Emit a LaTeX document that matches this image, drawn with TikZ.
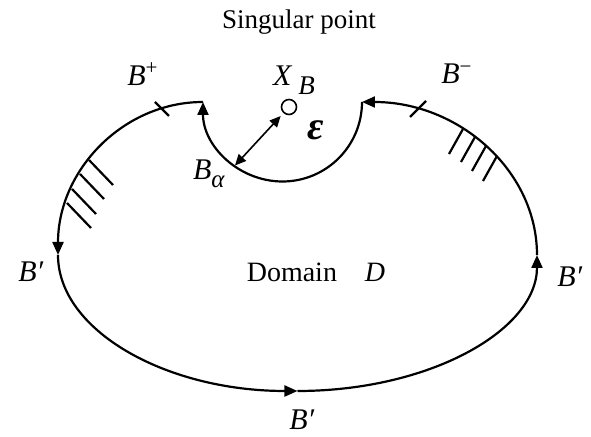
\documentclass[tikz,border=0pt]{standalone}
\usepackage{fontspec}
\setmainfont{Liberation Serif}
\usetikzlibrary{arrows.meta}

\begin{document}
\begin{tikzpicture}[x=0.5pt, y=-0.5pt, line width=1.1pt,
    every node/.style={font=\fontsize{13.5}{16}\selectfont},
    lbl/.style={font=\fontsize{15}{17}\selectfont},
    tip/.style={-{Triangle[length=6.5pt,width=5.5pt]}},
    gap/.style={{Triangle[length=5.5pt,width=5pt]}-{Triangle[length=5.5pt,width=5pt]}, line width=0.8pt}]
        \useasboundingbox (0,0) rectangle (591,437);

        \node (title) at (299,22) {Singular point};
        \node[circle, draw, line width=0.8pt, minimum size=7.5pt, inner sep=0pt] (xb) at (289,107) {};
        \node[lbl] (xblabel) at (294,80) {\textit{X}\hspace{3pt}\raisebox{-4.5pt}{\fontsize{13.5}{15}\selectfont\textit{B}}};
        \node (eps) at (316,130) {\fontsize{20}{22}\selectfont\textbf{\textit{ε}}};
        \node[lbl] (balpha) at (209,174) {\textit{B}\raisebox{-4pt}{\fontsize{12.5}{14}\selectfont\textit{α}}};
        \node[lbl] (bplus) at (143,74) {\textit{B}\textsuperscript{+}};
        \node[lbl] (bminus) at (457,74) {\textit{B}\textsuperscript{−}};
        \node[lbl] (bleft) at (31,272) {\textit{B′}};
        \node[lbl] (bright) at (570,277) {\textit{B′}};
        \node[lbl] (bbottom) at (302,420) {\textit{B′}};
        \node[lbl] (domain) at (316,272) {\fontsize{14}{16}\selectfont Domain\quad\textit{D}};

        \draw[tip] (203,102) arc[start angle=270, end angle=180, x radius=145, y radius=153];
        \draw[tip] (58,255) arc[start angle=180, end angle=90, x radius=239.5, y radius=136];
        \draw[tip] (297.5,391) arc[start angle=90, end angle=0, x radius=239.5, y radius=136];
        \draw[tip] (537,255) arc[start angle=0, end angle=-90, x radius=175, y radius=153];
        \draw[tip] (362,102) arc[start angle=0, end angle=180, radius=79.5];

        \draw (155,102) -- (169,116);
        \draw (410,117) -- (426,101);
        \foreach \x/\y in {89/160, 80/174, 72/189, 67/203}
            \draw (\x,\y) -- ++(24,25);
        \foreach \x/\y in {463/129, 475/137, 486/146, 497/156}
            \draw (\x,\y) -- ++(-14,25);

        \coordinate (foot) at (235,165.5);
        \draw[gap, shorten >=2pt] (foot) -- (xb);
    \end{tikzpicture}
\end{document}
